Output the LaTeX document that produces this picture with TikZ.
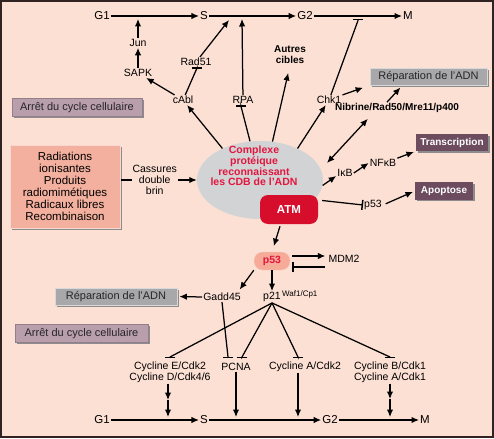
\documentclass[tikz,border=0pt]{standalone}
\usepackage{fontspec}
\setmainfont{Liberation Sans}
\usetikzlibrary{arrows.meta,shapes.geometric,calc,shadows}
\definecolor{bg}{RGB}{252,224,212}
\definecolor{frame}{RGB}{50,35,35}
\definecolor{salmon}{RGB}{244,176,158}
\definecolor{greybox}{RGB}{168,168,170}
\definecolor{mauve}{RGB}{185,158,172}
\definecolor{plum}{RGB}{108,76,94}
\definecolor{ellg}{RGB}{210,211,213}
\definecolor{cred}{RGB}{226,22,62}
\definecolor{atmred}{RGB}{214,14,44}
\definecolor{pfill}{RGB}{246,170,152}
\begin{document}
\begin{tikzpicture}[x=1pt,y=-1pt,
  every node/.style={inner sep=1pt},
  lbl/.style={font=\fontsize{10.5}{11.2}\selectfont, align=center},
  ph/.style={font=\fontsize{11.5}{12}\selectfont},
  bl/.style={font=\bfseries\fontsize{10}{11}\selectfont, align=center},
  arr/.style={line width=1.25pt, -{Latex[length=7.5pt,width=6.5pt]}},
  dbl/.style={line width=1.25pt, {Latex[length=7.5pt,width=6.5pt]}-{Latex[length=7.5pt,width=6.5pt]}},
  inh/.style={line width=1.25pt, -{Bar[width=10pt,line width=1.5pt]}},
  shad/.style={drop shadow={shadow xshift=1.6pt,shadow yshift=-1.6pt,opacity=1,fill=black!45}},
  greyb/.style={shad, fill=greybox, draw=white!55!greybox, line width=0.6pt, minimum width=117pt, minimum height=17pt, font=\fontsize{11}{12}\selectfont, text=black!85},
  mauveb/.style={shad, fill=mauve, draw=mauve!80!black, line width=0.5pt, minimum width=130pt, minimum height=18pt, font=\fontsize{11}{12}\selectfont, text=black!85},
  plumb/.style={shad, fill=plum, text=white, minimum height=17pt, font=\bfseries\fontsize{10}{11}\selectfont},
  salb/.style={shad, fill=salmon, draw=salmon!50!white, line width=0.6pt, minimum width=110pt, minimum height=83pt, align=center, font=\fontsize{11.5}{12}\selectfont},
  cxtext/.style={text=cred, align=center, font=\bfseries\fontsize{10.5}{10.8}\selectfont},
  atm/.style={fill=atmred, rounded corners=8pt, minimum width=58pt, minimum height=29pt, text=white, font=\bfseries\fontsize{11.5}{12}\selectfont},
  p53s/.style={fill=pfill, draw=pfill!60!white, rounded corners=8.5pt, minimum width=36pt, minimum height=18pt, inner sep=0pt, text=cred, font=\bfseries\fontsize{10.5}{11}\selectfont}
]
\path[use as bounding box] (0,0) rectangle (494,438);
\fill[bg] (0,0) rectangle (494,438);
\draw[frame, line width=2pt] (1,1) rectangle (493,437);

% top cycle
\node[ph] (G1t) at (102,16) {G1};
\node[ph] (St) at (204,16) {S};
\node[ph] (G2t) at (305,16) {G2};
\node[ph] (Mt) at (408,16) {M};
\coordinate (jS) at (138,19);
\coordinate (rS) at (229,20);
\coordinate (pS) at (242,19);
\coordinate (cS) at (358,19);

\node[lbl] (Jun) at (138,43) {Jun};
\node[lbl] (SAPK) at (138,73) {SAPK};
\node[lbl] (Rad51) at (196,62) {Rad51};
\node[lbl] (cAbl) at (183,100) {cAbl};
\node[lbl] (RPA) at (243,100) {RPA};
\node[bl] (Aut) at (290,55) {Autres\\cibles};
\node[lbl] (Chk1) at (329,100) {Chk1};
\node[bl] (Nib) at (397,108) {Nibrine/Rad50/Mre11/p400};
\node[greyb] (rep1) at (428.5,76.5) {Réparation de l'ADN};
\node[mauveb] (arr1) at (77,107.5) {Arrêt du cycle cellulaire};
\node[salb] (rad) at (65,186.5) {Radiations\\ionisantes\\Produits\\radiomimétiques\\Radicaux libres\\Recombinaison};

\node[ellipse, fill=ellg, minimum width=126pt, minimum height=78pt] (cx) at (260,180) {};
\node[cxtext] (cxt) at (254,166) {Complexe\\protéique\\reconnaissant\\les CDB de l'ADN};
\node[atm] (ATM) at (289,209.5) {ATM};

\node[lbl] (IkB) at (345,173) {IκB};
\node[lbl] (NFkB) at (383,163) {NFκB};
\node[plumb, minimum width=72pt] (trans) at (452,142.5) {Transcription};
\node[plumb, minimum width=58pt] (apop) at (444,191) {Apoptose};
\node[lbl] (p53r) at (373,205) {p53};

\node[p53s] (p53) at (272,261) {p53};
\node[lbl] (MDM2) at (344,259) {MDM2};
\node[lbl] (Gadd) at (222,297) {Gadd45};
\node[lbl, label={[inner sep=0pt, yshift=3pt, font=\fontsize{8}{9}\selectfont, anchor=west]east:Waf1/Cp1}] (p21) at (272,297) {p21};
\node[greyb, minimum width=122pt] (rep2) at (116,296.5) {Réparation de l'ADN};
\node[mauveb, minimum width=133pt] (arr2) at (81.5,333.5) {Arrêt du cycle cellulaire};

\node[lbl] (cycE) at (170,372) {Cycline E/Cdk2\\Cycline D/Cdk4/6};
\node[lbl] (PCNA) at (236,367) {PCNA};
\node[lbl] (cycA) at (305,367) {Cycline A/Cdk2};
\node[lbl] (cycB) at (390,372) {Cycline B/Cdk1\\Cycline A/Cdk1};

\node[ph] (G1b) at (102,420) {G1};
\node[ph] (Sb) at (204,420) {S};
\node[ph] (G2b) at (330,420) {G2};
\node[ph] (Mb) at (425,420) {M};

% top connectors
\draw[arr] (G1t) -- (St);
\draw[arr] (St) -- (G2t);
\draw[arr] (G2t) -- (Mt);
\draw[arr] (SAPK) -- (Jun);
\draw[arr] (Jun) -- (jS);
\draw[arr] (cAbl) -- (SAPK);
\draw[inh] (cAbl) -- ($(Rad51.south)+(1,1)$) -- ($(Rad51.south)+(1,0)$);
\draw[arr] (Rad51) -- (rS);
\draw[arr] (RPA) -- (pS);
\draw[inh] (cx) -- ($(RPA.south)+(-2,1.5)$) -- ($(RPA.south)+(-2,0.5)$);
\draw[arr] (cx.140) -- (cAbl);
\draw[arr, shorten >=8pt] (cx.72) -- (Aut.south);
\draw[arr] (cx.40) -- (Chk1);
\draw[inh] (Chk1) -- ($(cS)+(0,1.5)$) -- (cS);
\draw[arr, shorten >=7pt] (Chk1.north east) -- (rep1.south west);
\draw[arr, shorten >=3pt] ($(Nib.north)+(-10,0)$) -- ($(rep1.south)+(-26,0)$);
\draw[dbl] ($(Nib.south west)+(34,5)$) -- ($(cx.center)+(67,-17)$);
\draw[arr] (cx.-5) -- ($(IkB.west)+(0,3)$);
\draw[arr] (IkB.east) -- (NFkB.west);
\draw[arr, shorten >=2pt] (NFkB.north east) -- (trans.south west);
\draw[arr, shorten <=1pt] (rad.east |- cx.west) -- node[lbl, pos=0.45, fill=bg, inner sep=1pt] (cas) {Cassures\\double\\brin} (cx.west);
\draw[inh] ($(ATM.east)+(4,-9)$) -- (p53r.west);
\draw[arr, shorten <=3pt, shorten >=2pt] (p53r.east) -- (apop.west);

% p53 part
\draw[arr, shorten >=6pt] ($(ATM.south)+(-9,2)$) -- (p53.north);
\draw[arr] ($(p53.east)+(2,-5)$) -- ($(MDM2.west)+(-2,-3)$);
\draw[inh] ($(MDM2.west)+(-2,8)$) -- ($(p53.east)+(2,6)$);
\draw[arr, shorten >=3pt] (p53.south west) -- ($(Gadd.north east)+(-4,0)$);
\draw[arr] (p53.south) -- (p21.north);
\draw[arr, shorten >=2pt] (Gadd.west) -- (rep2.east);

\coordinate (bE) at (170,358);
\coordinate (bP1) at (228,358);
\coordinate (bP2) at (242,358);
\coordinate (bA) at (298,358);
\coordinate (bB) at (390,358);
\draw[inh] (p21.south) -- ($(bE)+(0,-1)$) -- (bE);
\draw[inh] (Gadd.south) -- ($(bP1)+(0,-1)$) -- (bP1);
\draw[inh] (p21.south) -- ($(bP2)+(0,-1)$) -- (bP2);
\draw[inh] (p21.south) -- ($(bA)+(0,-1)$) -- (bA);
\draw[inh] (p21.south) -- ($(bB)+(0,-1)$) -- (bB);

\coordinate (eM) at (168,400);
\coordinate (eL) at (168,417);
\coordinate (aL) at (298,417);
\coordinate (bM) at (390,399);
\coordinate (bL) at (390,417);
\draw[arr] ($(cycE.south)+(-2,0)$) -- (eM);
\draw[arr] (eM) -- (eL);
\draw[arr] (PCNA.south) -- (PCNA.south |- eL);
\draw[arr] (cycA.south -| aL) -- (aL);
\draw[arr] (cycB.south) -- (bM);
\draw[arr] (bM) -- (bL);

\draw[arr] (G1b) -- (Sb);
\draw[arr] (Sb) -- (G2b);
\draw[arr] (G2b) -- (Mb);
\end{tikzpicture}
\end{document}
